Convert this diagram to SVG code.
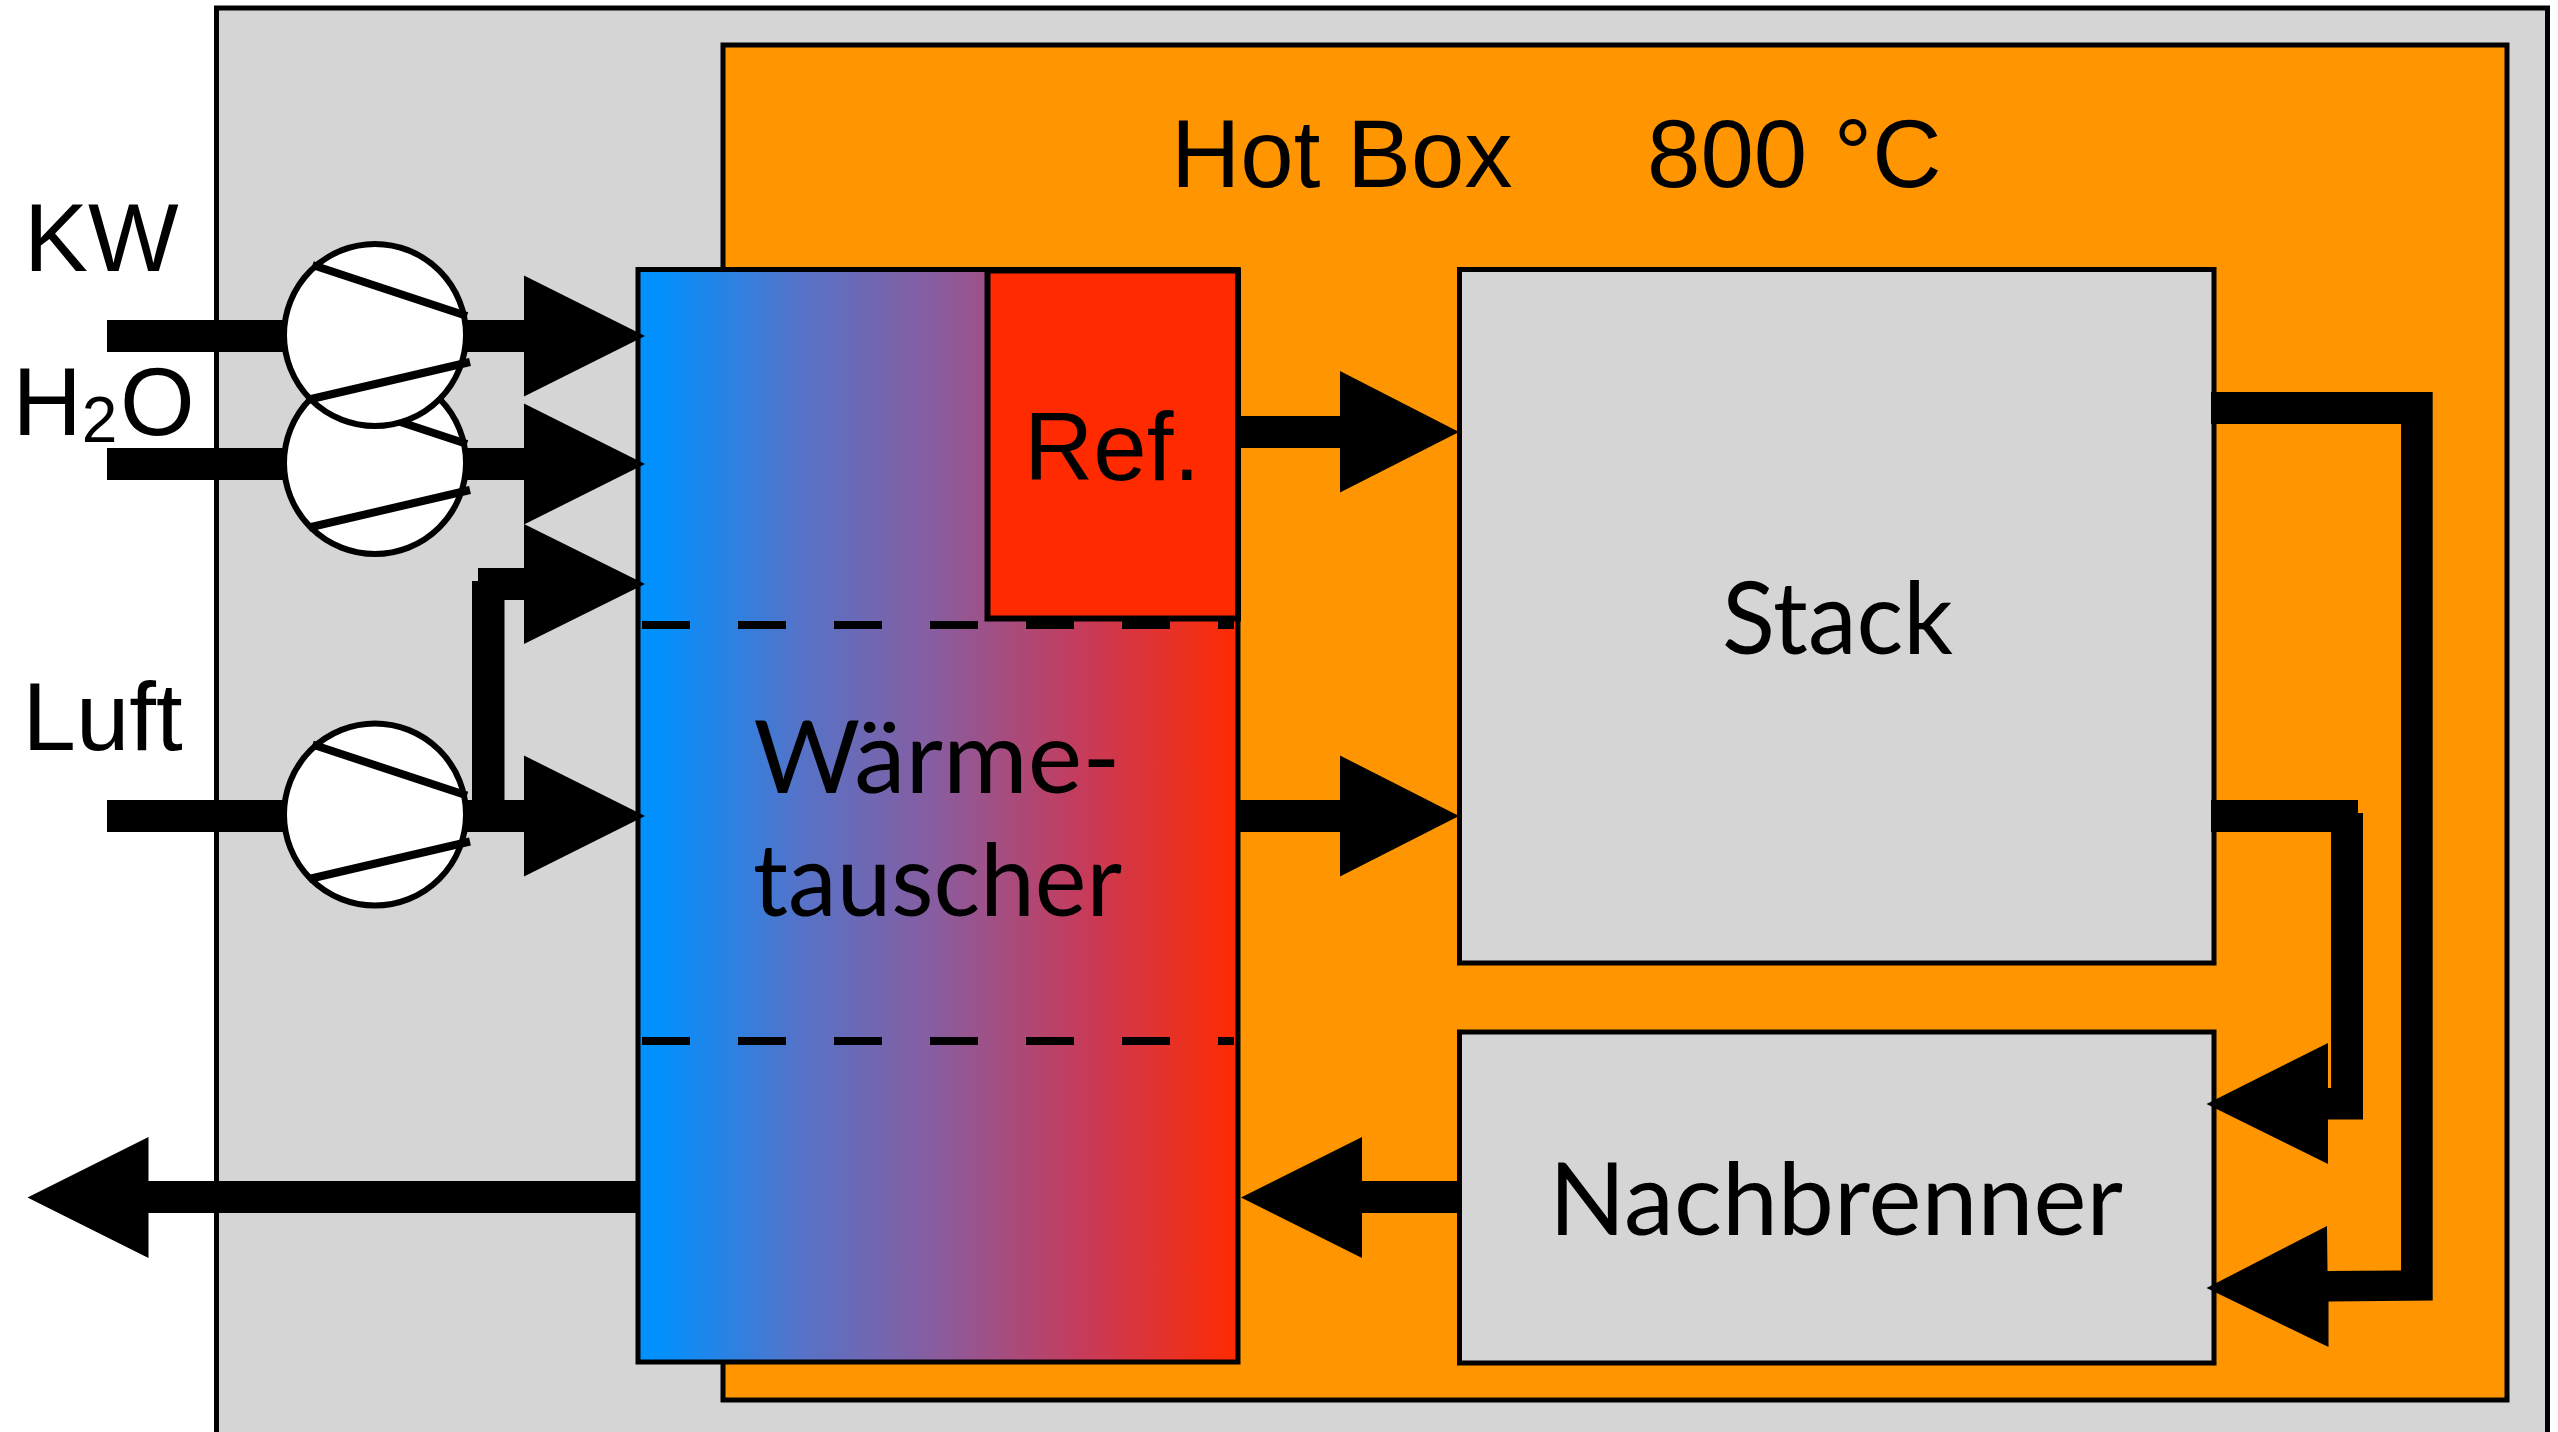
<svg xmlns="http://www.w3.org/2000/svg" width="2558" height="1432" viewBox="0 0 2558 1432">
<defs>
<linearGradient id="hxGrad" x1="0" y1="0" x2="1" y2="0">
<stop offset="0" stop-color="#0091FF"/>
<stop offset="0.03" stop-color="#0091FF"/>
<stop offset="0.27" stop-color="#5573C8"/>
<stop offset="0.5" stop-color="#8A5C9E"/>
<stop offset="0.75" stop-color="#C83A58"/>
<stop offset="1" stop-color="#FF2A00"/>
</linearGradient>
<g id="pump">
<circle cx="0" cy="0" r="91" fill="#fff" stroke="#000" stroke-width="6"/>
<line x1="-62.5" y1="-70" x2="92" y2="-19" class="blade"/>
<line x1="-66" y1="64.5" x2="95" y2="27" class="blade"/>
</g>
</defs>
<style>
.box{stroke:#000;stroke-width:5}
.blade{stroke:#000;stroke-width:8;fill:none}
.dash{stroke:#000;stroke-width:8;stroke-dasharray:48 48;fill:none}
.conn{fill:#000;stroke:none}
.hv{font-family:"Liberation Sans",Arial,sans-serif;font-size:96px;fill:#000}
.gill{font-family:Lato,"Noto Sans",sans-serif;font-size:101px;fill:#000}
</style>
<rect width="2558" height="1432" fill="#fff"/>
<g id="enclosure"><rect class="box" x="216.500" y="8" width="2331" height="1480" fill="#D5D5D5"/></g>
<g id="hotbox"><rect class="box" x="723" y="45" width="1784" height="1355" fill="#FF9500"/>
<text class="hv" x="1171" y="187">Hot Box</text><text class="hv" x="1647" y="187">800 °C</text></g>
<g id="waermetauscher"><rect class="box" x="638" y="269.500" width="600" height="1092.500" fill="url(#hxGrad)"/>
<line class="dash" x1="642" y1="625" x2="1234" y2="625"/>
<line class="dash" x1="642" y1="1041" x2="1234" y2="1041"/>
<text class="gill" x="753.500" y="793" textLength="367" lengthAdjust="spacingAndGlyphs">Wärme-</text>
<text class="gill" x="753" y="915.500" textLength="369" lengthAdjust="spacingAndGlyphs">tauscher</text></g>
<g id="reformer"><rect x="987.500" y="270.500" width="250.500" height="348" fill="#FF2A00" stroke="#000" stroke-width="6"/>
<text class="hv" x="1024" y="480">Ref.</text></g>
<g id="stack"><rect class="box" x="1459.500" y="269.500" width="754.500" height="693.500" fill="#D5D5D5"/>
<text class="gill" x="1722" y="653.500" textLength="231" lengthAdjust="spacingAndGlyphs">Stack</text></g>
<g id="nachbrenner"><rect class="box" x="1459.500" y="1032" width="754.500" height="331" fill="#D5D5D5"/>
<text class="gill" x="1549" y="1235" textLength="574" lengthAdjust="spacingAndGlyphs">Nachbrenner</text></g>
<g id="connectors">
<path class="conn" d="M107 320H524V275.500L645 336L524 396.500V352H107Z"/>
<path class="conn" d="M107 448H524V403.500L645 464L524 524.500V480H107Z"/>
<path class="conn" d="M107 800H472V581H478V568H524V524L645 584L524 644V600H504.500V800H524V755.500L645 816L524 876.500V832H107Z"/>
<path class="conn" d="M1240 416H1340V371L1459 432L1340 492.500V448H1240Z"/>
<path class="conn" d="M1240 800H1340V755.500L1459 816L1340 876.500V832H1240Z"/>
<path class="conn" d="M640 1181H148.500V1137L27.500 1197.500L148.500 1258V1213H640Z"/>
<path class="conn" d="M1459 1181H1362V1137L1241 1197.500L1362 1258V1213H1459Z"/>
<path class="conn" d="M2211 392H2432.700V1300.500L2328.500 1301.500L2328.500 1347L2206.500 1288L2327 1226L2327.500 1271L2401 1270.500V424H2211Z"/>
<path class="conn" d="M2211 800H2358V813H2363V1119.500H2328V1164L2206.500 1104L2328 1043V1088H2331V832H2211Z"/>
</g>
<g id="pump-h2o"><use href="#pump" x="375" y="463"/></g>
<g id="pump-kw"><use href="#pump" x="375" y="335"/></g>
<g id="pump-luft"><use href="#pump" x="375" y="814.500"/></g>
<g id="labels">
<text class="hv" x="24" y="271">KW</text>
<text class="hv" x="12.500" y="434.500">H<tspan font-size="64" y="441.500">2</tspan><tspan x="120" y="434.500">O</tspan></text>
<text class="hv" x="22.500" y="749.500">Luft</text>
</g>
</svg>
